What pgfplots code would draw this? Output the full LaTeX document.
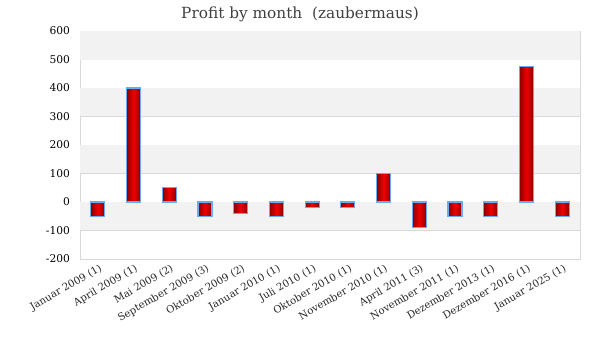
\documentclass[border=0pt]{standalone}
\usepackage{pgfplots}
\pgfplotsset{compat=1.18}
\usepackage{fontspec}
\setmainfont{DejaVu Serif}
\definecolor{band}{HTML}{F2F2F2}
\definecolor{gridc}{HTML}{D9D9D9}
\definecolor{bord}{HTML}{6AAAF0}
\definecolor{dred}{HTML}{8B0000}
\definecolor{bred}{HTML}{F00000}
\begin{document}
\begin{tikzpicture}
\useasboundingbox (0,0) rectangle (450pt,270pt);
\node[font=\fontsize{11.5}{13}\selectfont, text=black!75] at (225pt,259pt) {Profit by month\ \ (zaubermaus)};
\begin{axis}[
  at={(60pt,75.75pt)}, anchor=south west,
  scale only axis, width=375pt, height=171pt,
  xmin=-0.5, xmax=13.5, ymin=-200, ymax=600,
  ytick={-200,-100,0,100,200,300,400,500,600},
  xtick={0,...,13},
  xticklabels={Januar 2009 (1),April 2009 (1),Mai 2009 (2),September 2009 (3),Oktober 2009 (2),Januar 2010 (1),Juli 2010 (1),Oktober 2010 (1),November 2010 (1),April 2011 (3),November 2011 (1),Dezember 2013 (1),Dezember 2016 (1),Januar 2025 (1)},
  xticklabel style={rotate=30, anchor=north east, font=\fontsize{7.6}{8}\selectfont, text=black!85, inner sep=1pt, yshift=-2pt},
  yticklabel style={font=\fontsize{8}{9}\selectfont, xshift=-4pt},
  /pgf/number format/assume math mode=true,
  major tick length=0pt,
  axis line style={gridc},
  ymajorgrids, grid style={gridc, line width=0.6pt},
  axis on top=false,
  clip=false,
  barst/.style={ybar, bar width=10.5pt, bar shift=0pt, draw=bord, line width=0.8pt,
    left color=dred, right color=dred, middle color=bred},
]
\fill[band] (axis cs:-0.5,500) rectangle (axis cs:13.5,600);
\fill[band] (axis cs:-0.5,300) rectangle (axis cs:13.5,400);
\fill[band] (axis cs:-0.5,100) rectangle (axis cs:13.5,200);
\fill[band] (axis cs:-0.5,-100) rectangle (axis cs:13.5,0);
\addplot[barst] coordinates {(0,-50)};
\addplot[barst] coordinates {(1,400)};
\addplot[barst] coordinates {(2,50)};
\addplot[barst] coordinates {(3,-50)};
\addplot[barst] coordinates {(4,-40)};
\addplot[barst] coordinates {(5,-50)};
\addplot[barst] coordinates {(6,-20)};
\addplot[barst] coordinates {(7,-20)};
\addplot[barst] coordinates {(8,100)};
\addplot[barst] coordinates {(9,-90)};
\addplot[barst] coordinates {(10,-50)};
\addplot[barst] coordinates {(11,-50)};
\addplot[barst] coordinates {(12,475)};
\addplot[barst] coordinates {(13,-50)};
\end{axis}
\end{tikzpicture}
\end{document}
